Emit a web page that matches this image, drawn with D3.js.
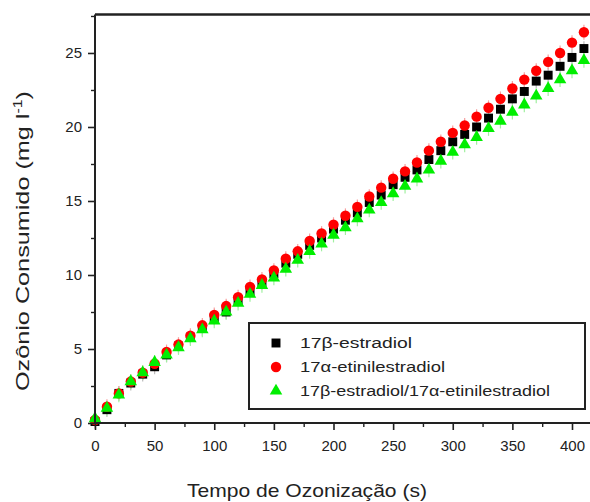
<!DOCTYPE html>
<html>
<head>
<meta charset="utf-8">
<script src="https://cdn.jsdelivr.net/npm/d3@7"></script>
<style>
  html, body { margin: 0; padding: 0; background: #fff; }
  svg { display: block; font-family: "Liberation Sans", Arial, sans-serif; }
</style>
</head>
<body>
<svg id="chart" width="590" height="502"></svg>
<script>
// Ozonation time (s)
const times = d3.range(0, 411, 10);

// Ozone consumed (mg l^-1) for each solution
const estradiol = [0.1, 0.9, 2.0, 2.7, 3.3, 3.8, 4.6, 5.2, 5.8, 6.4, 7.1, 7.5, 8.3, 8.9, 9.5, 10.1, 10.8, 11.4, 12.0, 12.5, 13.1, 13.7, 14.2, 14.9, 15.4, 16.1, 16.6, 17.1, 17.8, 18.4, 19.0, 19.5, 20.0, 20.6, 21.2, 21.9, 22.4, 23.1, 23.5, 24.1, 24.7, 25.3];
const etinilestradiol = [0.2, 1.1, 2.0, 2.8, 3.4, 4.0, 4.8, 5.3, 5.9, 6.6, 7.3, 7.9, 8.5, 9.2, 9.7, 10.3, 11.1, 11.6, 12.3, 12.8, 13.4, 14.0, 14.6, 15.3, 15.9, 16.5, 17.0, 17.6, 18.4, 19.0, 19.6, 20.1, 20.7, 21.3, 21.9, 22.6, 23.2, 23.8, 24.4, 25.0, 25.7, 26.4];
const mistura = [0.3, 1.0, 1.9, 2.8, 3.4, 4.1, 4.6, 5.1, 5.7, 6.3, 6.9, 7.5, 8.1, 8.7, 9.3, 9.8, 10.4, 11.0, 11.6, 12.1, 12.7, 13.2, 13.8, 14.4, 14.9, 15.5, 16.0, 16.5, 17.1, 17.7, 18.3, 18.8, 19.3, 19.9, 20.4, 21.0, 21.5, 22.1, 22.6, 23.2, 23.8, 24.5];

const seriesNames = ["17β-estradiol", "17α-etinilestradiol", "17β-estradiol/17α-etinilestradiol"];
const xTicks = [0, 50, 100, 150, 200, 250, 300, 350, 400];
const yTicks = [0, 5, 10, 15, 20, 25];

const svg = d3.select("#chart");
const padLeft = 95, padTop = 14.5, axisBottomY = 423;

const x = d3.scaleLinear().domain([0, 420]).range([padLeft, padLeft + 420 * 1.1925]);
const y = d3.scaleLinear().domain([0, 27.6]).range([axisBottomY, padTop]);

const series = [
  { name: seriesNames[0], values: estradiol, color: "#000000", err: "#bbbbbb", shape: d3.symbolSquare, size: 80 },
  { name: seriesNames[1], values: etinilestradiol, color: "#ff0000", err: "#f7a0a0", shape: d3.symbolCircle, size: 85 },
  { name: seriesNames[2], values: mistura, color: "#00ee00", err: "#a0f0a0", shape: d3.symbolTriangle, size: 68 }
];

const plot = svg.append("g");

// faint error bars
series.forEach(s => {
  plot.append("g").selectAll("line").data(times).join("line")
    .attr("x1", (t) => x(t)).attr("x2", (t) => x(t))
    .attr("y1", (t, i) => y(s.values[i] + 0.5))
    .attr("y2", (t, i) => y(s.values[i] - 0.5))
    .attr("stroke", s.err).attr("stroke-width", 1.2);
});

series.forEach(s => {
  plot.append("g").selectAll("path").data(times).join("path")
    .attr("transform", (t, i) => `translate(${x(t)},${y(s.values[i])})`)
    .attr("d", d3.symbol().type(s.shape).size(s.size))
    .attr("fill", s.color);
});

// frame
svg.append("line").attr("x1", padLeft).attr("x2", 600).attr("y1", padTop).attr("y2", padTop)
  .attr("stroke", "#222").attr("stroke-width", 2.5);
svg.append("line").attr("x1", padLeft).attr("x2", 600).attr("y1", axisBottomY).attr("y2", axisBottomY)
  .attr("stroke", "#222").attr("stroke-width", 2);
svg.append("line").attr("x1", padLeft).attr("x2", padLeft).attr("y1", padTop).attr("y2", axisBottomY)
  .attr("stroke", "#222").attr("stroke-width", 2);

// x axis
const xAxis = d3.axisBottom(x).tickValues(xTicks).tickSize(7).tickPadding(10).tickFormat(d3.format("d"));
const gx = svg.append("g").attr("transform", `translate(0,${axisBottomY})`).call(xAxis);
gx.select(".domain").remove();
gx.selectAll(".tick line").attr("stroke", "#222").attr("stroke-width", 1.6);
gx.selectAll(".tick text").attr("font-size", 15).attr("fill", "#222");
const gxm = svg.append("g").attr("transform", `translate(0,${axisBottomY})`)
  .call(d3.axisBottom(x).tickValues(d3.range(25, 420, 50)).tickSize(4).tickFormat(""));
gxm.select(".domain").remove();
gxm.selectAll(".tick line").attr("stroke", "#222").attr("stroke-width", 1.4);

// y axis
const yAxis = d3.axisLeft(y).tickValues(yTicks).tickSize(7).tickPadding(6);
const gy = svg.append("g").attr("transform", `translate(${padLeft},0)`).call(yAxis);
gy.select(".domain").remove();
gy.selectAll(".tick line").attr("stroke", "#222").attr("stroke-width", 1.6);
gy.selectAll(".tick text").attr("font-size", 15).attr("fill", "#222");
const gym = svg.append("g").attr("transform", `translate(${padLeft},0)`)
  .call(d3.axisLeft(y).tickValues(d3.range(2.5, 27.6, 5)).tickSize(4).tickFormat(""));
gym.select(".domain").remove();
gym.selectAll(".tick line").attr("stroke", "#222").attr("stroke-width", 1.4);

// axis titles
svg.append("text").attr("x", 307).attr("y", 497).attr("text-anchor", "middle")
  .attr("font-size", 19).attr("fill", "#222")
  .attr("textLength", 240).attr("lengthAdjust", "spacingAndGlyphs")
  .text("Tempo de Ozonização (s)");
const yt = svg.append("text").attr("transform", "translate(29,241) rotate(-90)")
  .attr("text-anchor", "middle").attr("font-size", 19).attr("fill", "#222");
yt.append("tspan").text("Ozônio Consumido (mg l");
yt.append("tspan").attr("font-size", 12).attr("dy", -7).text("-1");
yt.append("tspan").attr("dy", 7).text(")");
yt.attr("textLength", 300).attr("lengthAdjust", "spacingAndGlyphs");

// legend
const lg = svg.append("g");
lg.append("rect").attr("x", 249).attr("y", 323).attr("width", 336).attr("height", 86)
  .attr("fill", "#fff").attr("stroke", "#222").attr("stroke-width", 2);
series.forEach((s, i) => {
  const cy = 343 + i * 24;
  lg.append("path").attr("transform", `translate(276,${cy})`)
    .attr("d", d3.symbol().type(s.shape).size(s.size)).attr("fill", s.color);
  lg.append("text").attr("x", 300).attr("y", cy + 5).attr("font-size", 14).attr("fill", "#222")
    .attr("textLength", [112, 145, 250][i]).attr("lengthAdjust", "spacingAndGlyphs")
    .text(s.name);
});
</script>
</body>
</html>
